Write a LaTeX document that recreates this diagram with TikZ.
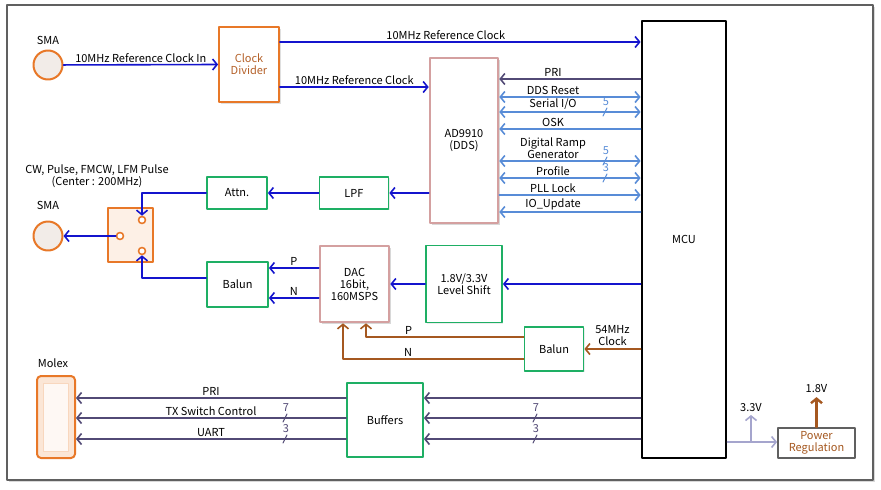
\documentclass[tikz,border=0pt]{standalone}
\usepackage{fontspec}
\setmainfont{Noto Sans CJK KR}
\usetikzlibrary{arrows.meta,shadows}
\definecolor{clkc}{RGB}{20,20,205}
\definecolor{ctlc}{RGB}{88,140,215}
\definecolor{busc}{RGB}{82,74,118}
\definecolor{brnc}{RGB}{165,88,32}
\definecolor{orng}{RGB}{232,120,40}
\definecolor{grnc}{RGB}{30,175,100}
\definecolor{pnkc}{RGB}{212,160,160}
\definecolor{pwrc}{RGB}{165,165,205}
\definecolor{smafill}{RGB}{242,236,232}
\definecolor{peach}{RGB}{251,230,214}
\definecolor{divtxt}{RGB}{180,96,40}
\begin{document}
\begin{tikzpicture}[x=1pt, y=-1pt, line cap=round, line join=round,
    font=\fontsize{11}{12}\selectfont, >={Straight Barb[length=4.5pt,width=11pt]}]
	\tikzset{
		box/.style={draw, fill=white, line width=1.8pt, align=center, inner sep=0pt},
		grnbox/.style={box, draw=grnc, drop shadow={opacity=0.15, shadow xshift=1pt, shadow yshift=-1pt}},
		orgbox/.style={box, draw=orng, drop shadow={opacity=0.25, shadow xshift=1.5pt, shadow yshift=-1.5pt}},
		pnkbox/.style={box, draw=pnkc, line width=2.6pt, drop shadow={opacity=0.3, shadow xshift=1.5pt, shadow yshift=-1.5pt}},
		sma/.style={circle, draw=orng, line width=2pt, fill=smafill, minimum size=29pt, inner sep=0pt},
		pin/.style={circle, draw=orng, line width=1.6pt, fill=white, minimum size=7pt, inner sep=0pt},
		clk/.style={draw=clkc, line width=1.6pt, ->},
		ctl/.style={draw=ctlc, line width=1.6pt},
		bus/.style={draw=busc, line width=1.6pt, <-},
		brw/.style={draw=brnc, line width=1.6pt, ->},
		lbl/.style={inner sep=1.5pt, above, text=black},
		busw/.pic={\draw[line width=1pt] (-2,4) -- (2,-4); \node (n) at (1,-10) {#1};}
	}
	\useasboundingbox (0,0) rectangle (881,490);
	% frame
	\draw[draw=gray!75!black, line width=2pt, fill=white, drop shadow={opacity=0.3, shadow xshift=2pt, shadow yshift=-2pt}] (7,5) rectangle (873,480);

	% blocks
	\node[sma] (sma1) at (48,65) {};
	\node (sma1lbl) at (48,40) {SMA};
	\node[orgbox, minimum width=60pt, minimum height=75pt, text=divtxt] (clkdiv) at (249,64.5) {Clock\\Divider};
	\node[pnkbox, minimum width=68pt, minimum height=165pt] (dds) at (464,140.5) {AD9910\\(DDS)};
	\node[box, draw=black, line width=2.8pt, minimum width=84pt, minimum height=437pt] (mcu) at (684,239.5) {MCU};
	\node[grnbox, minimum width=69pt, minimum height=32pt] (lpf) at (354,193) {LPF};
	\node[grnbox, minimum width=60pt, minimum height=32pt] (attn) at (237,193) {Attn.};
	\node[box, draw=orng, fill=peach!60, line width=1.6pt, minimum width=45pt, minimum height=54pt] (sw) at (130.5,235) {};
	\node[pin] (pin1) at (142,220) {};
	\node[pin] (pin2) at (120,236) {};
	\node[pin] (pin3) at (142,251) {};
	\node[sma] (sma2) at (48,236) {};
	\node (sma2lbl) at (48,205) {SMA};
	\node[align=center] (swlbl) at (97,176) {CW, Pulse, FMCW, LFM Pulse\\(Center : 200MHz)};
	\node[grnbox, minimum width=61pt, minimum height=45pt] (balun1) at (237.5,284.5) {Balun};
	\node[pnkbox, minimum width=69pt, minimum height=76pt] (dac) at (354.5,284) {DAC\\16bit,\\160MSPS};
	\node[grnbox, minimum width=76pt, minimum height=77pt] (lvl) at (464,284) {1.8V/3.3V\\Level Shift};
	\node[grnbox, minimum width=59pt, minimum height=44pt] (balun2) at (554,349) {Balun};
	\node[draw=orng, line width=2pt, rounded corners=4pt, fill=peach, minimum width=38pt, minimum height=82pt] (molex) at (56,417) {};
	\node[draw=orng!30, fill=orng!5, minimum width=25pt, minimum height=68pt] (molexin) at (molex) {};
	\node (molexlbl) at (53,363) {Molex};
	\node[grnbox, minimum width=76pt, minimum height=74pt] (buf) at (385,420) {Buffers};
	\node[box, draw=gray!75!black, text=brnc, minimum width=77pt, minimum height=30pt] (pwr) at (816.5,443) {Power\\Regulation};

	% clocks
	\draw[clk] (sma1) -- (clkdiv.west) node[lbl, midway] (lclkin) {10MHz Reference Clock In};
	\draw[clk] (clkdiv.east |- 0,42) -- (mcu.west |- 0,42) node[lbl, pos=0.46] (lclk1) {10MHz Reference Clock};
	\draw[clk] (clkdiv.east |- 0,87) -- (dds.west |- 0,87) node[lbl, midway] (lclk2) {10MHz Reference Clock};

	% DDS control
	\draw[busc, line width=1.6pt, <-] (dds.east |- 0,79) -- (mcu.west |- 0,79) node[lbl, pos=0.38] (lpri) {PRI};
	\draw[ctl, <->] (dds.east |- 0,97) -- (mcu.west |- 0,97) node[lbl, pos=0.38] (lrst) {DDS Reset};
	\draw[ctl, <->] (dds.east |- 0,112) -- (mcu.west |- 0,112) node[lbl, pos=0.38] (lsio) {Serial I/O};
	\draw[ctl, <-] (dds.east |- 0,129) -- (mcu.west |- 0,129) node[lbl, pos=0.38] (losk) {OSK};
	\draw[ctl, <->] (dds.east |- 0,161) -- (mcu.west |- 0,161) node[lbl, pos=0.38, align=center] (ldrg) {Digital Ramp\\Generator};
	\draw[ctl, <->] (dds.east |- 0,178) -- (mcu.west |- 0,178) node[lbl, pos=0.38] (lprof) {Profile};
	\draw[ctl, ->] (dds.east |- 0,195) -- (mcu.west |- 0,195) node[lbl, pos=0.38] (lpll) {PLL Lock};
	\draw[ctl, <-] (dds.east |- 0,212) -- (mcu.west |- 0,212) node[lbl, pos=0.38] (lioup) {IO\_Update};
	\pic[ctlc] at (605,112) {busw=5};
	\pic[ctlc] at (605,161) {busw=5};
	\pic[ctlc] at (605,178) {busw=3};

	% RF path
	\draw[clk] (dds.west |- lpf) -- (lpf);
	\draw[clk] (lpf) -- (attn);
	\draw[clk] (attn.west) -| (pin1.north);
	\draw[clk] (balun1.west |- 0,278) -| (pin3.south);
	\draw[clk] (pin2) -- (sma2);
	\draw[clk] (dac.west |- 0,268) -- (balun1.east |- 0,268) node[lbl, midway] (lp1) {P};
	\draw[clk] (dac.west |- 0,298) -- (balun1.east |- 0,298) node[lbl, midway] (ln1) {N};
	\draw[clk] (lvl) -- (dac);
	\draw[clk] (mcu.west |- lvl) -- (lvl);

	% 54MHz clock
	\draw[brw] (mcu.west |- balun2) -- (balun2) node[lbl, midway, align=center, yshift=1pt] (l54) {54MHz\\Clock};
	\draw[brw] (balun2.west |- 0,337) -| ([xshift=11.5pt]dac.south) node[lbl, pos=0.365] (lp2) {P};
	\draw[brw] (balun2.west |- 0,359) -| ([xshift=-11.5pt]dac.south) node[lbl, pos=0.32] (ln2) {N};

	% Molex side
	\draw[bus] (molex.east |- 0,398) -- (buf.west |- 0,398) node[lbl, midway] (lpri2) {PRI};
	\draw[bus] (molex.east |- 0,418) -- (buf.west |- 0,418) node[lbl, midway] (ltx) {TX Switch Control};
	\draw[bus] (molex.east |- 0,439) -- (buf.west |- 0,439) node[lbl, midway] (luart) {UART};
	\draw[bus] (buf.east |- 0,398) -- (mcu.west |- 0,398);
	\draw[bus] (buf.east |- 0,418) -- (mcu.west |- 0,418);
	\draw[bus] (buf.east |- 0,439) -- (mcu.west |- 0,439);
	\pic[busc] at (285,418) {busw=7};
	\pic[busc] at (285,439) {busw=3};
	\pic[busc] at (535,418) {busw=7};
	\pic[busc] at (535,439) {busw=3};

	% power
	\coordinate (vbr) at (751,442);
	\draw[pwrc, line width=1.6pt, ->] (mcu.east |- vbr) -- (pwr.west |- vbr);
	\draw[pwrc, line width=1.6pt, ->] (vbr) -- ++(0,-27) node[above, black, inner sep=3pt] (v33) {3.3V};
	\draw[brnc, line width=2.4pt, ->] (pwr.north) -- ++(0,-30) node[above, black, inner sep=3pt] (v18) {1.8V};
\end{tikzpicture}
\end{document}
